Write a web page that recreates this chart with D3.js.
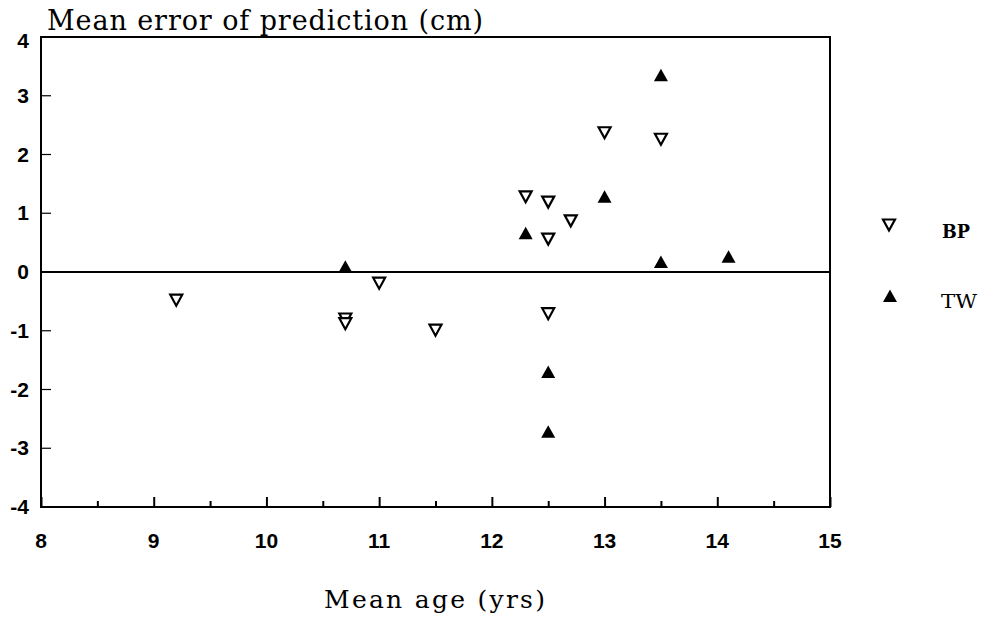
<!DOCTYPE html>
<html>
<head>
<meta charset="utf-8">
<script src="https://cdn.jsdelivr.net/npm/d3@7"></script>
<style>
  body { margin: 0; background: #fff; }
  svg { display: block; }
</style>
</head>
<body>
<svg id="chart" width="983" height="625"></svg>
<script>
// data
let bpAge   = [9.2, 10.7, 10.7, 11.0, 11.5, 12.3, 12.5, 12.5, 12.5, 12.7, 13.0, 13.5]
let bpError = [-0.48, -0.8, -0.88, -0.19, -0.99, 1.28, 1.19, 0.56, -0.71, 0.87, 2.37, 2.26]
let twAge   = [10.7, 12.3, 12.5, 12.5, 13.0, 13.5, 13.5, 14.1]
let twError = [0.09, 0.66, -1.70, -2.72, 1.28, 3.35, 0.17, 0.26]
let xTicks = [8, 9, 10, 11, 12, 13, 14, 15]
let yTicks = [4, 3, 2, 1, 0, -1, -2, -3, -4]

let svg = d3.select('#chart')
let plotLeft = 41, plotRight = 830, plotTop = 37, plotBottom = 507
let serif = 'DejaVu Serif, Liberation Serif, serif'
let sans = 'Liberation Sans, Arial, sans-serif'

let x = d3.scaleLinear().domain([8, 15]).range([plotLeft, plotRight])
let y = d3.scaleLinear().domain([-4, 4]).range([plotBottom, plotTop])

// frame
svg.append('rect')
    .attr('x', plotLeft).attr('y', plotTop)
    .attr('width', plotRight - plotLeft).attr('height', plotBottom - plotTop)
    .attr('fill', 'none').attr('stroke', '#000').attr('stroke-width', 2)

// x axis ticks (inward)
let xAxis = d3.axisTop(x)
    .tickValues(d3.range(8, 15.01, 0.5))
    .tickSize(0)
    .tickFormat('')
let gx = svg.append('g').attr('transform', 'translate(0,' + plotBottom + ')').call(xAxis)
gx.select('.domain').remove()
gx.selectAll('.tick').append('line')
    .attr('y2', (d) => { return Number.isInteger(d) ? -10 : -6 })
    .attr('stroke', '#000').attr('stroke-width', 2)

svg.selectAll('.xlab')
    .data(xTicks)
    .enter()
    .append('text')
    .attr('x', (d) => { return x(d) })
    .attr('y', 548)
    .attr('text-anchor', 'middle')
    .style('font-family', sans)
    .style('font-weight', 'bold')
    .style('font-size', '21px')
    .text((d) => { return d })

// y axis ticks (inward)
svg.selectAll('.ytick')
    .data(yTicks)
    .enter()
    .append('line')
    .attr('x1', plotLeft).attr('x2', plotLeft + 10)
    .attr('y1', (d) => { return y(d) })
    .attr('y2', (d) => { return y(d) })
    .attr('stroke', '#000').attr('stroke-width', 1.2)

svg.selectAll('.ylab')
    .data(yTicks)
    .enter()
    .append('text')
    .attr('x', 29)
    .attr('y', (d) => { return y(d) + (d === 4 ? 11 : 7) })
    .attr('text-anchor', 'end')
    .style('font-family', sans)
    .style('font-weight', 'bold')
    .style('font-size', '21px')
    .text((d) => { return d })

// zero line
svg.append('line')
    .attr('x1', plotLeft).attr('x2', plotRight)
    .attr('y1', y(0)).attr('y2', y(0))
    .attr('stroke', '#000').attr('stroke-width', 2)

// titles
svg.append('text')
    .attr('x', 47).attr('y', 30)
    .attr('textLength', 436).attr('lengthAdjust', 'spacing')
    .style('font-family', serif)
    .style('font-size', '27px')
    .text('Mean error of prediction (cm)')

svg.append('text')
    .attr('x', 324).attr('y', 608)
    .attr('textLength', 221).attr('lengthAdjust', 'spacing')
    .style('font-family', serif)
    .style('font-size', '25px')
    .text('Mean age (yrs)')

// markers
let upTri = 'M0,-6.5L7,6L-7,6Z'
let downTri = 'M-6,-5.5L6,-5.5L0,5.5Z'

svg.selectAll('.bp')
    .data(bpAge)
    .enter()
    .append('path')
    .attr('d', downTri)
    .attr('transform', (d, i) => { return 'translate(' + x(d) + ',' + y(bpError[i]) + ')' })
    .attr('fill', '#fff').attr('stroke', '#000').attr('stroke-width', 2.2)

svg.selectAll('.tw')
    .data(twAge)
    .enter()
    .append('path')
    .attr('d', upTri)
    .attr('transform', (d, i) => { return 'translate(' + x(d) + ',' + y(twError[i]) + ')' })
    .attr('fill', '#000')

// legend
svg.append('path').attr('d', downTri)
    .attr('transform', 'translate(889,225)')
    .attr('fill', '#fff').attr('stroke', '#000').attr('stroke-width', 2.2)
svg.append('path').attr('d', upTri)
    .attr('transform', 'translate(890,296)')
    .attr('fill', '#000')

svg.append('text')
    .attr('x', 942).attr('y', 238)
    .attr('textLength', 28).attr('lengthAdjust', 'spacingAndGlyphs')
    .style('font-family', serif)
    .style('font-weight', 'bold')
    .style('font-size', '18px')
    .text('BP')
svg.append('text')
    .attr('x', 941).attr('y', 308)
    .attr('textLength', 36).attr('lengthAdjust', 'spacingAndGlyphs')
    .style('font-family', serif)
    .style('font-size', '18px')
    .text('TW')
</script>
</body>
</html>
